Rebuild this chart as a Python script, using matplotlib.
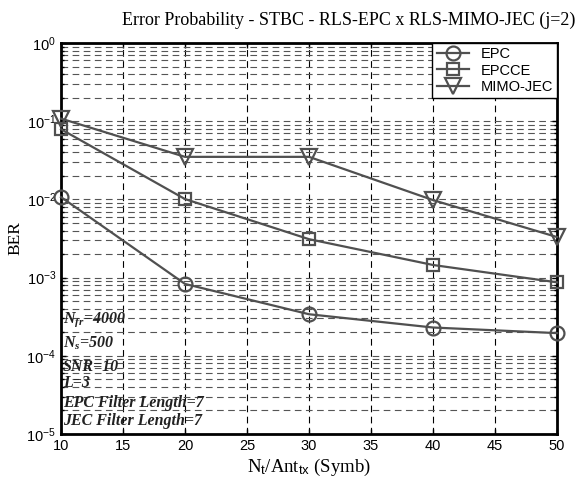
import numpy as np
import matplotlib
matplotlib.use("Agg")
import matplotlib.pyplot as plt

# values
nt = [10, 20, 30, 40, 50]
ber_epc = [1.07e-2, 8.3e-4, 3.4e-4, 2.3e-4, 1.95e-4]
ber_epcce = [7.9e-2, 1.01e-2, 3.1e-3, 1.45e-3, 8.7e-4]
ber_jec = [1.08e-1, 3.5e-2, 3.5e-2, 9.8e-3, 3.3e-3]
labels = ["EPC", "EPCCE", "MIMO-JEC"]
notes = [r"$\mathbf{N_{fr}}$=4000", r"$\mathbf{N_{s}}$=500", "SNR=10", "L=3",
         "EPC Filter Length=7", "JEC Filter Length=7"]

plt.rcParams["mathtext.fontset"] = "custom"
plt.rcParams["mathtext.rm"] = "Liberation Sans"
plt.rcParams["mathtext.it"] = "Liberation Serif:italic:bold"
plt.rcParams["mathtext.bf"] = "Liberation Serif:italic:bold"

fig = plt.figure(figsize=(5.79, 4.79), dpi=100)
ax = fig.add_axes([61/579, 45/479, 496/579, 391/479])

col = "#505050"
kw = dict(color=col, lw=1.6, mfc="none", mew=1.6, clip_on=False, zorder=3)
ax.semilogy(nt, ber_epc, "-o", ms=10, label=labels[0], **kw)
ax.semilogy(nt, ber_epcce, "-s", ms=9, label=labels[1], **kw)
ax.semilogy(nt, ber_jec, "-v", ms=11, label=labels[2], **kw)

ax.set_xlim(10, 50)
ax.set_ylim(1e-5, 1)
ax.set_xticks(range(10, 51, 5))
ax.grid(True, which="major", axis="x", color="black", ls=(0, (6, 4)), lw=0.8)
ax.grid(True, which="both", axis="y", color="#555555", ls=(0, (6, 4)), lw=0.8)
ax.tick_params(which="both", direction="in", top=True, right=True,
               labelsize=10.5, width=1)
for lab in ax.get_xticklabels() + ax.get_yticklabels():
    lab.set_family("Liberation Sans")
for s in ax.spines.values():
    s.set_linewidth(2)

fig.text(349/579, 1 - 20/479, "Error Probability - STBC - RLS-EPC x RLS-MIMO-JEC (j=2)",
         family="Liberation Serif", fontsize=13, ha="center", va="center")
ax.set_xlabel(r"N$_\mathrm{t}$/Ant$_\mathrm{tx}$ (Symb)", family="Liberation Serif",
              fontsize=13.5, labelpad=3)
ax.set_ylabel("BER", family="Liberation Serif", fontsize=12.5, labelpad=2)

ys = [320, 343, 367, 383, 403, 421]
for t, yp in zip(notes, ys):
    fig.text(63/579, 1 - yp/479, t, family="Liberation Serif", style="italic",
             weight="bold", fontsize=11.5, va="center", color="#222222")

leg = ax.legend(loc="upper right", prop={"family": "Liberation Sans", "size": 10.5},
                fancybox=False, edgecolor="black", framealpha=1, borderaxespad=0,
                handlelength=2.2, labelspacing=0.15, borderpad=0.3)
leg.get_frame().set_linewidth(1)

fig.savefig("out.png", dpi=100)
